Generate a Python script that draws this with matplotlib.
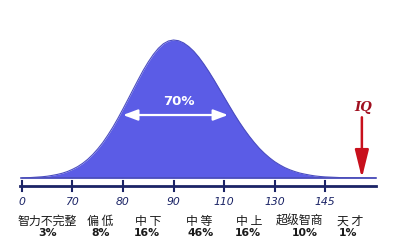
import numpy as np
import matplotlib
matplotlib.use("Agg")
import matplotlib.pyplot as plt

plt.rcParams['font.family'] = ['Noto Sans CJK SC', 'DejaVu Sans']

# Tick labels of the IQ axis (equally spaced positions)
tick_labels = ["0", "70", "80", "90", "110", "130", "145"]

# Bell curve: positions in tick units, relative height
curve_x = [0.0, 0.2, 0.4, 0.5, 0.6, 0.7, 0.8, 0.9, 1.0, 1.1, 1.2, 1.3, 1.4, 1.5, 1.6,
           1.7, 1.8, 1.9, 2.0, 2.1, 2.2, 2.3, 2.4, 2.5, 2.6, 2.7, 2.8, 2.9, 3.0,
           3.1, 3.2, 3.3, 3.4, 3.5, 3.6, 3.7, 3.8, 3.9, 4.0, 4.1, 4.2, 4.3, 4.4,
           4.5, 4.6, 4.7, 4.8, 4.9, 5.0, 5.1, 5.2, 5.3, 5.4, 5.5, 5.6, 5.7, 5.8,
           5.9, 6.0, 6.3, 7.0]
curve_y = [0.0, 0.004, 0.009, 0.013, 0.019, 0.026, 0.035, 0.047, 0.063, 0.082, 0.106,
           0.135, 0.170, 0.211, 0.257, 0.311, 0.369, 0.433, 0.501, 0.571, 0.642, 0.712,
           0.780, 0.841, 0.895, 0.940, 0.973, 0.993, 1.0,
           0.995, 0.979, 0.953, 0.919, 0.876, 0.826, 0.771, 0.712, 0.650, 0.588, 0.526,
           0.465, 0.407, 0.353, 0.303, 0.257, 0.215, 0.179, 0.147, 0.119, 0.096, 0.076,
           0.060, 0.047, 0.036, 0.028, 0.021, 0.015, 0.011, 0.008, 0.003, 0.0]

# Category labels and shares
categories = ["智力不完整", "偏 低", "中 下", "中 等", "中 上", "超级智商", "天 才"]
shares = ["3%", "8%", "16%", "46%", "16%", "10%", "1%"]
cat_pos = [0.5, 1.55, 2.5, 3.5, 4.5, 5.5, 6.5]
share_pos = [0.5, 1.55, 2.48, 3.53, 4.48, 5.6, 6.45]

middle_share = "70%"
middle_span = [2.0, 4.08]
iq_pos = 6.73

fig = plt.figure(figsize=(4.0, 2.49), dpi=100)
ax = fig.add_axes([0, 0, 1, 1])
ax.set_xlim(-0.4356, 7.485)
ax.set_ylim(-0.5145, 1.290)
ax.axis("off")

fill_col = "#5b5ce6"
navy = "#1b2466"

ax.fill_between(curve_x, 0, curve_y, color=fill_col, lw=0, zorder=2)
ax.plot(curve_x, curve_y, color="#4a4cc0", lw=0.8, zorder=3, solid_joinstyle="round")
ax.plot([-0.02, 7.0], [0, 0], color="#4a4db8", lw=1.2, zorder=3)

# number line
ax.plot([-0.04, 7.0], [-0.058, -0.058], color=navy, lw=2.0, zorder=3)
for i, lab in enumerate(tick_labels):
    ax.plot([i, i], [-0.02, -0.095], color=navy, lw=1.5, zorder=3)
    ax.text(i, -0.174, lab, ha="center", va="center", fontsize=7.8,
            style="italic", color=navy, family=["DejaVu Sans"])

for c, s, cx, sx in zip(categories, shares, cat_pos, share_pos):
    ax.text(cx, -0.312, c, ha="center", va="center", fontsize=8.6, color="#1a1a1a",
            fontweight="medium")
    ax.text(sx, -0.399, s, ha="center", va="center", fontsize=7.8, color="#1a1a1a",
            fontweight="bold", family=["DejaVu Sans"])

# 70% double arrow
ax.annotate("", xy=(middle_span[0], 0.4565), xytext=(middle_span[1], 0.4565),
            arrowprops=dict(arrowstyle="<|-|>,head_length=0.8,head_width=0.3",
                            color="white", lw=1.6,
                            mutation_scale=11, shrinkA=0, shrinkB=0), zorder=4)
ax.text(sum(middle_span) / 2 + 0.06, 0.551, middle_share, ha="center", va="center",
        fontsize=9.5, fontweight="bold", color="white", family=["DejaVu Sans"], zorder=4)

# IQ arrow
ax.annotate("", xy=(iq_pos, 0.0), xytext=(iq_pos, 0.44),
            arrowprops=dict(arrowstyle="-|>,head_length=1.7,head_width=0.42",
                            color="#c8101c", lw=1.8,
                            mutation_scale=10, shrinkA=0, shrinkB=0), zorder=4)
ax.text(iq_pos + 0.02, 0.514, "IQ", ha="center", va="center", fontsize=9.5,
        fontweight="bold", style="italic", color="#a01020", family=["DejaVu Serif"])

fig.savefig("out.png", dpi=100)
